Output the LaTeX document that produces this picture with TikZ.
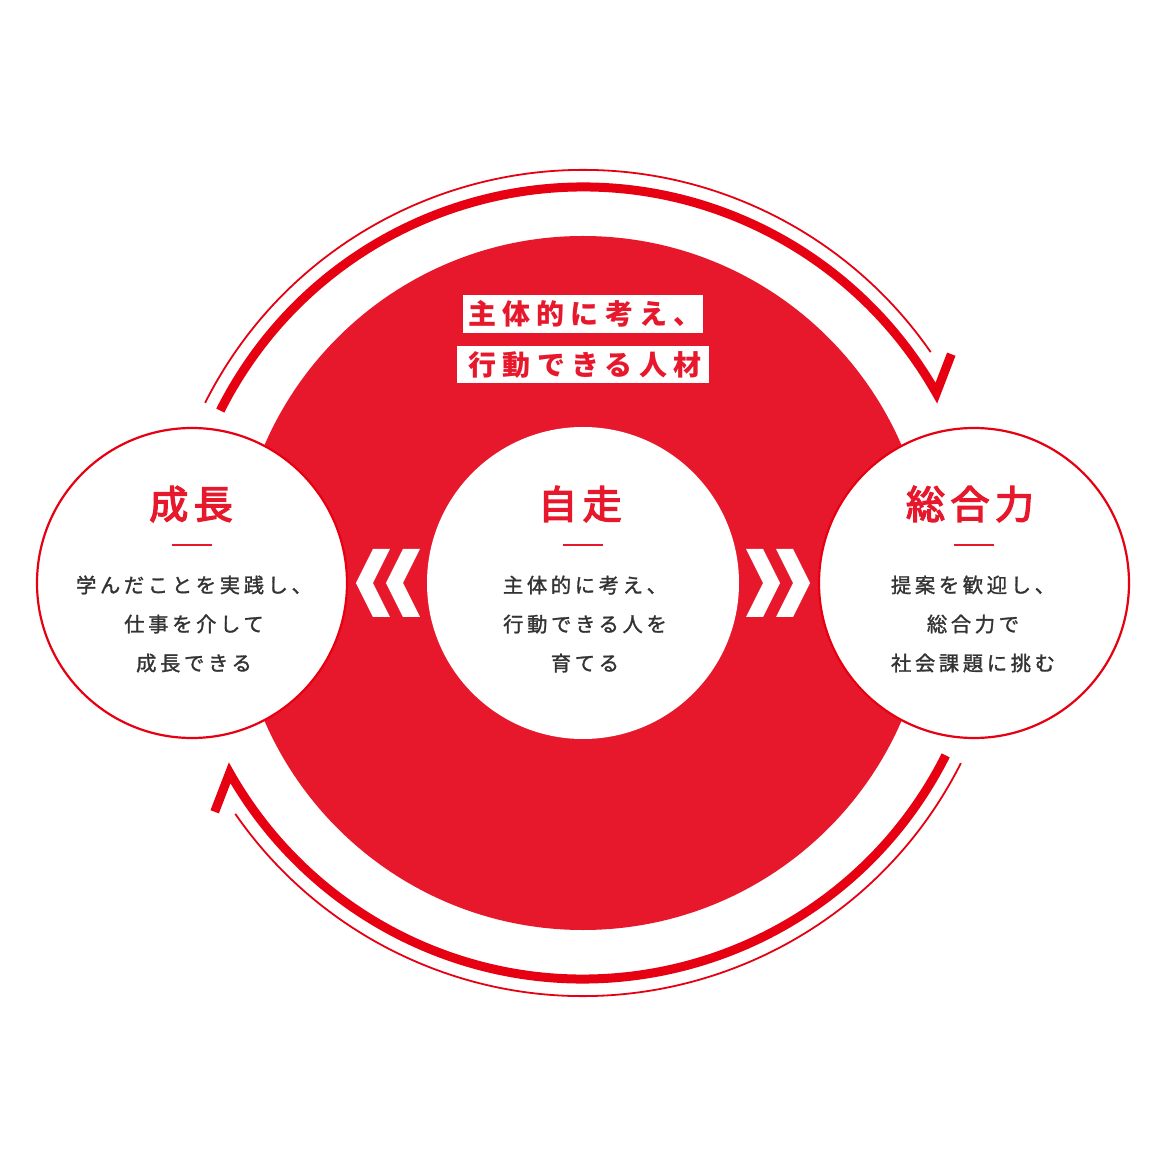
\documentclass[tikz,border=0pt]{standalone}
\usepackage{fontspec}
\newfontfamily\jpdesc[LetterSpace=18,FakeBold=1.4]{Noto Sans CJK JP}
\newfontfamily\jptitle[LetterSpace=14,FakeBold=3.5]{Noto Sans CJK JP}
\newfontfamily\jplabel[LetterSpace=22]{Noto Sans CJK JP}
\definecolor{brand}{RGB}{232,24,44}
\definecolor{arcred}{RGB}{230,0,18}
\definecolor{txt}{RGB}{51,51,51}
\begin{document}
\begin{tikzpicture}[x=1pt,y=1pt,
  thickarc/.style={draw=arcred,line width=9pt,miter limit=20},
  thinarc/.style={draw=arcred,line width=1.8pt},
  sidecircle/.style={circle,draw=arcred,line width=2.2pt,fill=white,minimum size=310pt,inner sep=0pt},
  chev/.style={fill=white},
  titletext/.style={text=brand,font=\jptitle\fontsize{39}{39}\selectfont,inner sep=0pt},
  desctext/.style={text=txt,align=center,font=\jpdesc\fontsize{20.3}{39}\selectfont,inner sep=0pt},
  dashline/.style={draw=brand,line width=2pt},
  labelbox/.style={fill=white,text=brand,inner sep=0pt,font=\jplabel\bfseries\fontsize{28}{28}\selectfont}]
\useasboundingbox (-583,-583) rectangle (583,583);
\fill[white] (-583,-583) rectangle (583,583);
% big red disc and white circles
\node[circle,fill=brand,minimum size=694pt,inner sep=0pt] (big) at (0,0) {};
\node[circle,fill=white,minimum size=312pt,inner sep=0pt] (mid) at (0,0) {};
\node[sidecircle] (left) at (-391,0) {};
\node[sidecircle] (right) at (391,0) {};
% cycle arrows
\foreach \r in {0,180}{
\begin{scope}[rotate=\r]
  \coordinate (ts) at (-362.7,172.4);
  \coordinate (tb) at (368.3,228.8);
  \coordinate (ns) at (-377.9,180.1);
  \draw[thickarc] (ts) arc[start angle=153.3,end angle=29.5,radius=406] -- (tb);
  \draw[thinarc] (ns) arc[start angle=153.3,end angle=34.7,radius=423];
\end{scope}}
% chevrons
\foreach \s in {1,-1}{
\begin{scope}[xscale=\s]
  \fill[chev] (-210,34) -- (-227,0) -- (-210,-34) -- (-193,-34) -- (-210,0) -- (-193,34) -- cycle;
  \fill[chev] (-180,34) -- (-197,0) -- (-180,-34) -- (-163,-34) -- (-180,0) -- (-163,34) -- cycle;
\end{scope}}
% top label
\node[labelbox,minimum width=240pt,minimum height=38pt] (lab1) at (0,269) {};
\node[labelbox,minimum width=252pt,minimum height=37pt] (lab2) at (0,218.5) {};
\node[labelbox,fill=none] (lab1t) at (2,269) {主体的に考え、};
\node[labelbox,fill=none] (lab2t) at (2,218.5) {行動できる人材};
% titles
\node[titletext] (t1) at (-392,79) {成長};
\node[titletext] (t2) at (-3,79) {自走};
\node[titletext] (t3) at (387,79) {総合力};
\draw[dashline] (-411,38) -- (-371,38);
\draw[dashline] (-20,38) -- (20,38);
\draw[dashline] (371,38) -- (411,38);
% descriptions
\node[desctext] (d1) at (-389,-41) {学んだことを実践し、\\仕事を介して\\成長できる};
\node[desctext] (d2) at (2,-41) {主体的に考え、\\行動できる人を\\育てる};
\node[desctext] (d3) at (390,-41) {提案を歓迎し、\\総合力で\\社会課題に挑む};
\end{tikzpicture}
\end{document}
